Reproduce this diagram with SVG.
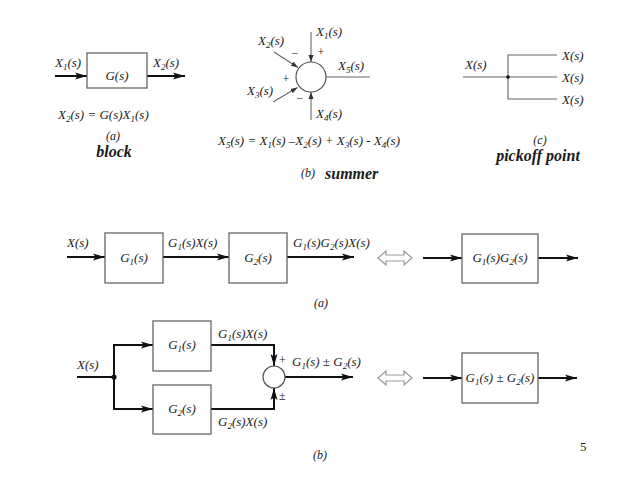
<svg xmlns="http://www.w3.org/2000/svg" width="638" height="478" viewBox="0 0 638 478">
<style>
text{font-family:'Liberation Serif','DejaVu Serif','Noto Serif',serif;fill:#1a1a1a}
.m{font-style:italic;font-size:13px}
.c{text-anchor:middle}
.cap{font-style:italic;font-size:12px}
.lbl{font-style:italic;font-weight:bold;font-size:16px}
.box{fill:#fff;stroke:#666;stroke-width:1.3}
.w{fill:none;stroke:#111;stroke-width:2}
.t{fill:none;stroke:#666;stroke-width:1.1}
.da{fill:#fff;stroke:#999;stroke-width:1.2}
</style>
<defs>
<marker id="ah" markerUnits="userSpaceOnUse" markerWidth="13" markerHeight="8" refX="12" refY="4" orient="auto">
<path d="M0,0.5 L12,4 L0,7.5 L2.5,4 z" fill="#111"/>
</marker>
<marker id="as" markerUnits="userSpaceOnUse" markerWidth="8" markerHeight="6" refX="7" refY="3" orient="auto">
<path d="M0,0.5 L7,3 L0,5.5 z" fill="#333"/>
</marker>
</defs>
<rect width="638" height="478" fill="#fff"/>

<g id="connectors">
<line class="w" x1="55" y1="76" x2="87" y2="76" marker-end="url(#ah)"/>
<line class="w" x1="147" y1="76" x2="185" y2="76" marker-end="url(#ah)"/>
<line class="t" x1="311" y1="32" x2="311" y2="62" marker-end="url(#as)"/>
<line class="t" x1="311" y1="120" x2="311" y2="92" marker-end="url(#as)"/>
<line class="t" x1="326" y1="77" x2="370" y2="77"/>
<line class="t" x1="274" y1="52" x2="298" y2="67.5" marker-end="url(#as)"/>
<line class="t" x1="273" y1="102" x2="297.5" y2="87.5" marker-end="url(#as)"/>
<line class="t" x1="463" y1="77" x2="557" y2="77"/>
<polyline class="t" points="557,55 508,55 508,99 557,99"/>
<line class="w" x1="67" y1="257" x2="105" y2="257" marker-end="url(#ah)"/>
<line class="w" x1="163" y1="257" x2="229" y2="257" marker-end="url(#ah)"/>
<line class="w" x1="287" y1="257" x2="354" y2="257" marker-end="url(#ah)"/>
<line class="w" x1="423" y1="258" x2="462" y2="258" marker-end="url(#ah)"/>
<line class="w" x1="538" y1="258" x2="578" y2="258" marker-end="url(#ah)"/>
<line class="w" x1="77" y1="377" x2="114" y2="377"/>
<line class="w" x1="114" y1="345" x2="114" y2="409"/>
<line class="w" x1="113" y1="345" x2="153" y2="345" marker-end="url(#ah)"/>
<line class="w" x1="113" y1="409" x2="153" y2="409" marker-end="url(#ah)"/>
<polyline class="w" points="211,345 274,345 274,366" marker-end="url(#ah)"/>
<polyline class="w" points="211,409 274,409 274,388" marker-end="url(#ah)"/>
<line class="w" x1="285" y1="377" x2="353" y2="377" marker-end="url(#ah)"/>
<line class="w" x1="423" y1="378" x2="462" y2="378" marker-end="url(#ah)"/>
<line class="w" x1="538" y1="378" x2="577" y2="378" marker-end="url(#ah)"/>
</g>

<g id="block-a">
<rect class="box" x="87" y="53" width="60" height="35"/>
<text class="m c" x="117" y="80">G(s)</text>
<text class="m" x="55" y="67">X<tspan dy="3" font-size="9">1</tspan><tspan dy="-3">(s)</tspan></text>
<text class="m" x="153" y="67">X<tspan dy="3" font-size="9">2</tspan><tspan dy="-3">(s)</tspan></text>
<text class="m" x="58" y="119">X<tspan dy="3" font-size="9">2</tspan><tspan dy="-3">(s) = G(s)X</tspan><tspan dy="3" font-size="9">1</tspan><tspan dy="-3">(s)</tspan></text>
<text class="cap c" x="113" y="140">(a)</text>
<text class="lbl c" x="114" y="157">block</text>
</g>

<g id="summer">
<circle cx="311" cy="77" r="15" fill="#fff" stroke="#555" stroke-width="1.2"/>
<text class="m" x="258" y="45">X<tspan dy="3" font-size="9">2</tspan><tspan dy="-3">(s)</tspan></text>
<text class="m" x="316" y="36">X<tspan dy="3" font-size="9">1</tspan><tspan dy="-3">(s)</tspan></text>
<text class="m" x="338" y="70">X<tspan dy="3" font-size="9">5</tspan><tspan dy="-3">(s)</tspan></text>
<text class="m" x="247" y="95">X<tspan dy="3" font-size="9">3</tspan><tspan dy="-3">(s)</tspan></text>
<text class="m" x="316" y="118">X<tspan dy="3" font-size="9">4</tspan><tspan dy="-3">(s)</tspan></text>
<text class="c" x="295" y="57" font-size="12">−</text>
<text class="c" x="321" y="56" font-size="12">+</text>
<text class="c" x="286" y="83" font-size="12">+</text>
<text class="c" x="300" y="102" font-size="12">−</text>
<text class="m" x="218" y="145">X<tspan dy="3" font-size="9">5</tspan><tspan dy="-3">(s) = X</tspan><tspan dy="3" font-size="9">1</tspan><tspan dy="-3">(s) –X</tspan><tspan dy="3" font-size="9">2</tspan><tspan dy="-3">(s) + X</tspan><tspan dy="3" font-size="9">3</tspan><tspan dy="-3">(s) - X</tspan><tspan dy="3" font-size="9">4</tspan><tspan dy="-3">(s)</tspan></text>
<text class="cap c" x="308" y="177">(b)</text>
<text class="lbl" x="325" y="179">summer</text>
</g>

<g id="pickoff">
<circle cx="508" cy="77" r="1.8" fill="#111"/>
<text class="m" x="465" y="69">X(s)</text>
<text class="m" x="562" y="60">X(s)</text>
<text class="m" x="562" y="82">X(s)</text>
<text class="m" x="562" y="104">X(s)</text>
<text class="cap c" x="540" y="144">(c)</text>
<text class="lbl c" x="538" y="161">pickoff point</text>
</g>

<g id="cascade">
<rect class="box" x="105" y="233" width="58" height="50"/>
<rect class="box" x="229" y="233" width="58" height="50"/>
<text class="m c" x="134" y="262">G<tspan dy="3" font-size="9">1</tspan><tspan dy="-3">(s)</tspan></text>
<text class="m c" x="258" y="262">G<tspan dy="3" font-size="9">2</tspan><tspan dy="-3">(s)</tspan></text>
<text class="m" x="67" y="247">X(s)</text>
<text class="m" x="168" y="247">G<tspan dy="3" font-size="9">1</tspan><tspan dy="-3">(s)X(s)</tspan></text>
<text class="m" x="293" y="247">G<tspan dy="3" font-size="9">1</tspan><tspan dy="-3">(s)G</tspan><tspan dy="3" font-size="9">2</tspan><tspan dy="-3">(s)X(s)</tspan></text>
<polygon class="da" points="378,258 386,251 386,255 404,255 404,251 412,258 404,265 404,261 386,261 386,265"/>
<rect class="box" x="462" y="234" width="76" height="49"/>
<text class="m c" x="500" y="262">G<tspan dy="3" font-size="9">1</tspan><tspan dy="-3">(s)G</tspan><tspan dy="3" font-size="9">2</tspan><tspan dy="-3">(s)</tspan></text>
<text class="cap c" x="321" y="307">(a)</text>
</g>

<g id="parallel">
<circle cx="114" cy="377" r="2.6" fill="#111"/>
<rect class="box" x="153" y="321" width="58" height="50"/>
<rect class="box" x="153" y="385" width="58" height="49"/>
<text class="m c" x="182" y="349">G<tspan dy="3" font-size="9">1</tspan><tspan dy="-3">(s)</tspan></text>
<text class="m c" x="182" y="413">G<tspan dy="3" font-size="9">2</tspan><tspan dy="-3">(s)</tspan></text>
<circle cx="274" cy="377" r="11" fill="#fff" stroke="#555" stroke-width="1.2"/>
<text class="m" x="77" y="369">X(s)</text>
<text class="m" x="218" y="338">G<tspan dy="3" font-size="9">1</tspan><tspan dy="-3">(s)X(s)</tspan></text>
<text class="m" x="218" y="426">G<tspan dy="3" font-size="9">2</tspan><tspan dy="-3">(s)X(s)</tspan></text>
<text x="279" y="364" font-size="12">+</text>
<text class="m" x="292" y="366">G<tspan dy="3" font-size="9">1</tspan><tspan dy="-3">(s) ± G</tspan><tspan dy="3" font-size="9">2</tspan><tspan dy="-3">(s)</tspan></text>
<text x="279" y="400" font-size="12">±</text>
<polygon class="da" points="378,378 386,371 386,375 404,375 404,371 412,378 404,385 404,381 386,381 386,385"/>
<rect class="box" x="462" y="353" width="76" height="50"/>
<text class="m c" x="500" y="382">G<tspan dy="3" font-size="9">1</tspan><tspan dy="-3">(s) ± G</tspan><tspan dy="3" font-size="9">2</tspan><tspan dy="-3">(s)</tspan></text>
<text class="cap c" x="320" y="459">(b)</text>
</g>

<text x="580" y="451" font-size="13">5</text>
</svg>
